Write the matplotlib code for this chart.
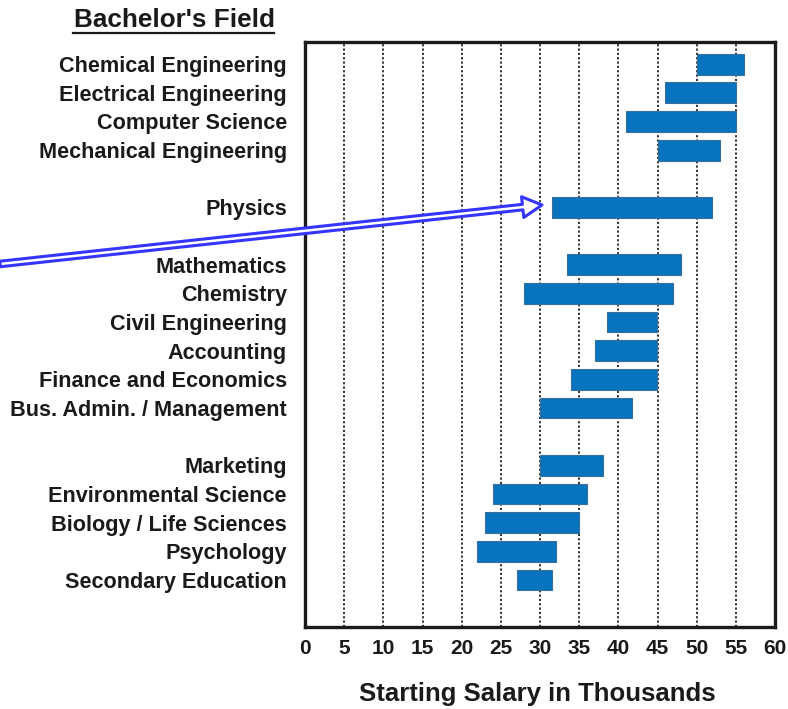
import matplotlib
matplotlib.use("Agg")
import matplotlib.pyplot as plt
from matplotlib.lines import Line2D

fields = ["Chemical Engineering", "Electrical Engineering", "Computer Science",
          "Mechanical Engineering", "Physics", "Mathematics", "Chemistry",
          "Civil Engineering", "Accounting", "Finance and Economics",
          "Bus. Admin. / Management", "Marketing", "Environmental Science",
          "Biology / Life Sciences", "Psychology", "Secondary Education"]
low = [50, 46, 41, 45, 31.5, 33.5, 28, 38.5, 37, 34, 30, 30, 24, 23, 22, 27]
high = [56, 55, 55, 53, 52, 48, 47, 45, 45, 45, 41.7, 38, 36, 35, 32, 31.5]
group_sizes = [4, 1, 6, 5]
x_ticks = list(range(0, 65, 5))

# row positions with one blank row between groups
pos = []
r = 0
for g in group_sizes:
    for _ in range(g):
        pos.append(r)
        r += 1
    r += 1

plt.rcParams['font.family'] = ['Liberation Sans', 'DejaVu Sans']
fig = plt.figure(figsize=(7.88, 7.09), dpi=100)
ax = fig.add_axes([305/788, 1-627/709, (775-305)/788, (627-42)/709])

widths = [h - l for l, h in zip(low, high)]
ax.barh(pos, widths, left=low, height=0.73, color='#0873be',
        edgecolor='#3a6f9a', linewidth=0.8, zorder=3)

ax.set_xlim(0, 60)
ax.set_ylim(19.64, -0.77)
for x in x_ticks[1:-1]:
    ax.axvline(x, color='#222222', linestyle=(0, (1.2, 1.2)), linewidth=1.3, zorder=1)

ax.set_xticks(x_ticks)
ax.set_xticklabels([str(x) for x in x_ticks], fontsize=15, fontweight='bold', color='#1a1a1a')
ax.set_yticks(pos)
ax.set_yticklabels(fields, fontsize=15.6, fontweight='bold', color='#1a1a1a')
ax.tick_params(axis='both', length=0)
ax.tick_params(axis='y', pad=13)
ax.tick_params(axis='x', pad=9)
for s in ax.spines.values():
    s.set_linewidth(2.4)
    s.set_color('#1a1a1a')

fig.text(537/788, 1-694/709, "Starting Salary in Thousands", fontsize=18.5,
         fontweight='bold', ha='center', va='center', color='#1a1a1a')
t = fig.text(174/788, 1-20/709, "Bachelor's Field", fontsize=18.8,
             fontweight='bold', ha='center', va='center', color='#1a1a1a')
fig.canvas.draw()
bb = t.get_window_extent().transformed(fig.transFigure.inverted())
fig.add_artist(Line2D([bb.x0, bb.x1], [1-33/709, 1-33/709], color='#1a1a1a',
                      linewidth=1.6, transform=fig.transFigure))

# blue hollow arrow pointing at Physics
ax.annotate("", xy=(542/788, 1-205/709), xycoords='figure fraction',
            xytext=(0/788, 1-264/709), textcoords='figure fraction',
            arrowprops=dict(arrowstyle='simple,head_width=1.5,head_length=1.4,tail_width=0.4',
                            facecolor='white', edgecolor='#3535ff', linewidth=2.2,
                            shrinkA=0, shrinkB=0), zorder=5)

fig.savefig("out.png", dpi=100)
